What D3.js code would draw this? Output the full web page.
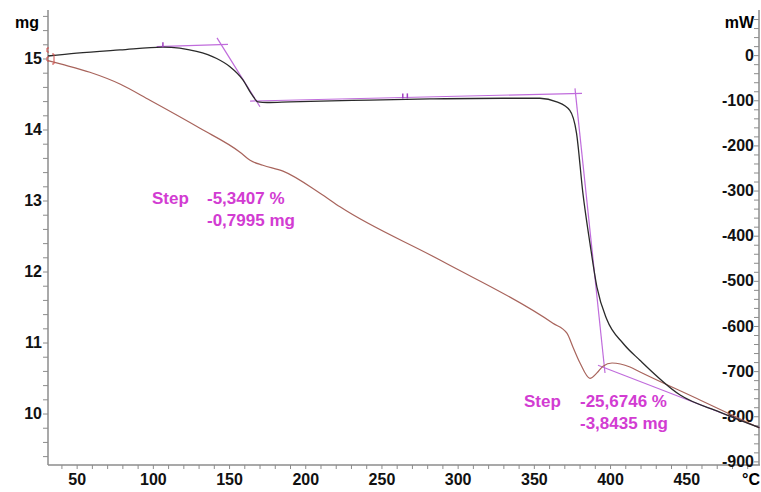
<!DOCTYPE html>
<html>
<head>
<meta charset="utf-8">
<script src="https://cdn.jsdelivr.net/npm/d3@7"></script>
<style>
  body { margin: 0; background: #fff; }
  svg { display: block; font-family: "Liberation Sans", Arial, sans-serif; }
</style>
</head>
<body>
<svg id="chart"></svg>
<script>
// TG curve (mass, left axis)
var tgTemp = [31.2, 50, 78.4, 106.6, 128.7, 141.9, 150.6, 159.1, 165, 169, 175, 190, 242.4, 281.8, 330, 354, 365, 373.6, 378, 382.2, 386.8, 391.4, 398, 408.5, 419.6, 446, 472, 498];
var tgMass = [15.035, 15.075, 15.12, 15.16, 15.10, 15.0, 14.885, 14.70, 14.49, 14.39, 14.38, 14.39, 14.415, 14.43, 14.44, 14.44, 14.39, 14.27, 13.95, 13.1, 12.40, 11.78, 11.32, 10.99, 10.75, 10.26, 10.02, 9.80];

// DSC curve (heat flow, right axis)
var dscTemp = [31.2, 40, 58.7, 78.4, 98.1, 130.9, 157.2, 163.8, 172.2, 185.4, 209.7, 222.8, 288.4, 362.5, 371.7, 375.7, 380.3, 386.8, 391.4, 395.4, 401.3, 413.1, 419.7, 459, 498];
var dscPower = [-12, -20, -38, -64, -100, -162, -215, -233, -244, -257, -306, -336, -454, -594, -616, -647, -682, -716, -704, -689, -682, -691, -702, -764, -826];

// tangent / baseline construction lines (temp, mass pairs)
var tangentLines = [
    [[102.5, 15.166], [149.3, 15.2]],
    [[142.1, 15.29], [170.3, 14.32]],
    [[163.8, 14.40], [381.6, 14.51]],
    [[377, 14.58], [396.7, 10.57]],
    [[392.1, 10.68], [498.3, 9.80]]
];
var markerTemps = [106.6, 264, 267];

// tick labels
var xTicks = [50, 100, 150, 200, 250, 300, 350, 400, 450];
var massTicks = [10, 11, 12, 13, 14, 15];
var powerTicks = [0, -100, -200, -300, -400, -500, -600, -700, -800, -900];

var stepLabels = [
    {title: "Step", pct: "-5,3407 %", mass: "-0,7995 mg"},
    {title: "Step", pct: "-25,6746 %", mass: "-3,8435 mg"}
];

var dimensions = {
    width: 761,
    height: 492,
    margin: { top: 10, bottom: 27, left: 48, right: 1 }
};
var axisColor = "#8c8c8c";
var stepColor = "#d23cd2";
var lineColor = "#c06cdc";

var svg = d3.select("#chart")
    .attr("width", dimensions.width)
    .attr("height", dimensions.height);

var bottom = dimensions.height - dimensions.margin.bottom;
var right = dimensions.width - dimensions.margin.right;

var xScale = d3.scaleLinear()
    .domain([31.2, 498.4])
    .range([dimensions.margin.left, right]);

var yMass = d3.scaleLinear()
    .domain([9.275, 15.683])
    .range([bottom, dimensions.margin.top]);

var yPower = d3.scaleLinear()
    .domain([-908, 100])
    .range([bottom, dimensions.margin.top]);

// x axis
var xAxis = d3.axisBottom(xScale)
    .tickValues(d3.range(40, 491, 10))
    .tickSize(4)
    .tickFormat(d => xTicks.indexOf(d) >= 0 ? d : "");
var gx = svg.append("g")
    .attr("transform", `translate(0, ${bottom})`)
    .call(xAxis);
gx.select(".domain").attr("d", `M${dimensions.margin.left},0H${right}`);
gx.selectAll("text").attr("y", 0).attr("dy", "20");

// left axis
var yAxisL = d3.axisLeft(yMass)
    .tickValues(d3.range(9.4, 15.7, 0.2))
    .tickSize(5)
    .tickFormat(d => {
        var r = Math.round(d);
        return Math.abs(d - r) < 0.01 && massTicks.indexOf(r) >= 0 ? r : "";
    });
var gl = svg.append("g")
    .attr("transform", `translate(${dimensions.margin.left}, 0)`)
    .call(yAxisL);
gl.select(".domain").attr("d", `M0,${dimensions.margin.top}V${bottom}`);
gl.selectAll("text").attr("x", -6);

// right axis (ticks drawn inward)
var yAxisR = d3.axisLeft(yPower)
    .tickValues(d3.range(-900, 81, 20))
    .tickSize(5)
    .tickFormat(d => powerTicks.indexOf(d) >= 0 ? d : "");
var gr = svg.append("g")
    .attr("transform", `translate(${right - 1}, 0)`)
    .call(yAxisR);
gr.select(".domain").attr("d", `M0,${dimensions.margin.top}V${bottom}`);
gr.selectAll("text").attr("x", -5);

[gx, gl, gr].forEach(g => {
    g.select(".domain").attr("stroke", axisColor).attr("stroke-width", 1.5);
    g.selectAll(".tick line").attr("stroke", axisColor);
    g.selectAll("text")
        .attr("fill", "#111")
        .style("font-size", "16px")
        .style("font-weight", "bold");
});

// unit labels
svg.append("text").attr("x", 27).attr("y", 28).attr("text-anchor", "middle")
    .style("font-size", "16px").style("font-weight", "bold").text("mg");
svg.append("text").attr("x", 754).attr("y", 28).attr("text-anchor", "end")
    .style("font-size", "16px").style("font-weight", "bold").text("mW");
svg.append("text").attr("x", 751).attr("y", 485).attr("text-anchor", "middle")
    .style("font-size", "16px").style("font-weight", "bold").text("°C");

// construction lines
var tanLine = d3.line()
    .x(d => xScale(d[0]))
    .y(d => yMass(d[1]));
svg.selectAll(".tangent")
    .data(tangentLines)
    .enter()
    .append("path")
    .attr("class", "tangent")
    .attr("d", tanLine)
    .attr("fill", "none")
    .attr("stroke", lineColor)
    .attr("stroke-width", 1.2);

// DSC curve
var dscData = dscTemp.map((t, i) => [t, dscPower[i]]);
svg.append("path")
    .datum(dscData)
    .attr("d", d3.line().curve(d3.curveMonotoneX)
        .x(d => xScale(d[0]))
        .y(d => yPower(d[1])))
    .attr("fill", "none")
    .attr("stroke", "#a8645c")
    .attr("stroke-width", 1.2);

// TG curve
var tgData = tgTemp.map((t, i) => [t, tgMass[i]]);
svg.append("path")
    .datum(tgData)
    .attr("d", d3.line().curve(d3.curveMonotoneX)
        .x(d => xScale(d[0]))
        .y(d => yMass(d[1])))
    .attr("fill", "none")
    .attr("stroke", "#2a2a2a")
    .attr("stroke-width", 1.3);

// small evaluation markers on the baselines
var baseY = t => t < 150 ? 15.172 : 14.40 + (t - 163.8) * (0.11 / 217.8);
svg.selectAll(".marker")
    .data(markerTemps)
    .enter()
    .append("line")
    .attr("x1", d => xScale(d))
    .attr("x2", d => xScale(d))
    .attr("y1", d => yMass(baseY(d)) - 4)
    .attr("y2", d => yMass(baseY(d)) + 1)
    .attr("stroke", "#a040c0")
    .attr("stroke-width", 1.5);

// start markers (red brackets)
var x0 = xScale(tgTemp[0]);
var y0 = yMass(tgMass[0]);
svg.append("path")
    .attr("d", `M${x0 + 1},${y0 - 8}h-2v4h2 M${x0 + 1},${y0 + 1}h-2v4h2 M${x0 + 4},${y0 - 2}h2v10h-2`)
    .attr("fill", "none")
    .attr("stroke", "#d0504c")
    .attr("stroke-width", 1);

// step annotations
var stepPos = [[152, 204, 207], [524, 407, 580]];
stepLabels.forEach((s, i) => {
    var p = stepPos[i];
    var g = svg.append("g")
        .attr("fill", stepColor)
        .style("font-size", "17px")
        .style("font-weight", "bold");
    g.append("text").attr("x", p[0]).attr("y", p[1]).text(s.title);
    g.append("text").attr("x", p[2]).attr("y", p[1]).text(s.pct);
    g.append("text").attr("x", p[2]).attr("y", p[1] + 22).text(s.mass);
});
</script>
</body>
</html>
